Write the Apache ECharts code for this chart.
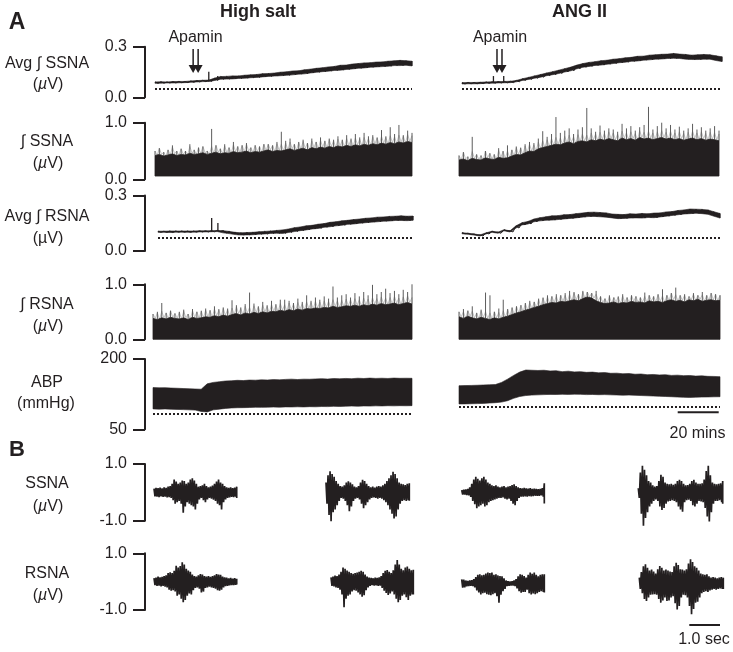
<!DOCTYPE html>
<html><head><meta charset="utf-8">
<script src="https://cdn.jsdelivr.net/npm/echarts@6/dist/echarts.min.js"></script>
<style>html,body{margin:0;padding:0;background:#fff}#c{width:733px;height:652px}</style>
</head><body><div id="c"></div><script>
// ---------------- DATA ----------------
// Panel A, row 1: Avg ∫SSNA (µV), upper / lower edge of the noisy trace
const avgSsnaSaltHi = [0.091,0.092,0.091,0.093,0.094,0.094,0.097,0.099,0.101,0.102,0.114,0.123,0.124,0.127,0.127,0.131,0.133,0.135,0.14,0.141,0.144,0.149,0.151,0.156,0.157,0.163,0.167,0.172,0.175,0.18,0.183,0.19,0.191,0.197,0.2,0.204,0.205,0.209,0.21,0.214,0.216,0.219,0.217,0.214];
const avgSsnaSaltLo = [0.083,0.084,0.085,0.085,0.086,0.087,0.089,0.091,0.093,0.094,0.1,0.107,0.108,0.109,0.112,0.113,0.116,0.118,0.121,0.124,0.126,0.128,0.13,0.133,0.137,0.139,0.144,0.148,0.152,0.155,0.159,0.161,0.165,0.168,0.172,0.174,0.178,0.18,0.182,0.184,0.188,0.188,0.19,0.186];
const avgSsnaSaltSpikes = [[9.0, 0.152], [10.5, 0.126]];
const avgSsnaAngHi = [0.087,0.088,0.088,0.089,0.091,0.092,0.093,0.094,0.095,0.1,0.11,0.118,0.127,0.135,0.144,0.152,0.161,0.17,0.179,0.191,0.2,0.207,0.211,0.217,0.22,0.226,0.229,0.234,0.237,0.243,0.244,0.25,0.252,0.255,0.256,0.26,0.256,0.254,0.25,0.252,0.254,0.252,0.246,0.24];
const avgSsnaAngLo = [0.079,0.08,0.08,0.081,0.083,0.084,0.085,0.086,0.087,0.092,0.1,0.106,0.113,0.119,0.128,0.134,0.141,0.15,0.157,0.169,0.178,0.183,0.189,0.191,0.196,0.2,0.205,0.208,0.213,0.215,0.22,0.222,0.226,0.227,0.23,0.231,0.23,0.226,0.224,0.224,0.226,0.226,0.218,0.212];
const avgSsnaAngSpikes = [[5.2, 0.126], [6.9, 0.126]];
const avgSsnaBase = [0.053, 0.053];
// row 2: ∫SSNA (µV): dense body top and peak spikes
const ssnaSaltBody = [0.42,0.44,0.41,0.43,0.45,0.42,0.44,0.43,0.46,0.44,0.45,0.47,0.44,0.46,0.48,0.45,0.47,0.46,0.49,0.47,0.48,0.5,0.47,0.49,0.48,0.5,0.52,0.49,0.51,0.5,0.52,0.54,0.51,0.53,0.55,0.52,0.56,0.54,0.57,0.55,0.58,0.56,0.59,0.57,0.6,0.58,0.61,0.59,0.62,0.6,0.63,0.61,0.64,0.62,0.65,0.63,0.66,0.64,0.67,0.65];
const ssnaSaltPeak = [0.5,0.55,0.48,0.52,0.6,0.5,0.54,0.5,0.62,0.52,0.56,0.58,0.5,0.89,0.6,0.54,0.62,0.56,0.66,0.58,0.6,0.64,0.56,0.6,0.58,0.62,0.62,0.6,0.66,0.84,0.68,0.72,0.62,0.66,0.7,0.64,0.72,0.66,0.74,0.68,0.72,0.7,0.76,0.7,0.78,0.72,0.8,0.74,0.82,0.76,0.78,0.74,0.87,0.76,0.92,0.8,0.96,0.78,0.86,0.82];
const ssnaAngBody = [0.34,0.36,0.33,0.37,0.35,0.34,0.38,0.36,0.35,0.39,0.37,0.38,0.41,0.44,0.43,0.47,0.5,0.49,0.54,0.56,0.58,0.6,0.62,0.61,0.64,0.66,0.63,0.67,0.68,0.66,0.7,0.68,0.71,0.69,0.72,0.7,0.68,0.73,0.7,0.72,0.69,0.74,0.71,0.73,0.7,0.72,0.74,0.71,0.73,0.7,0.72,0.69,0.71,0.73,0.7,0.72,0.69,0.71,0.7,0.68];
const ssnaAngPeak = [0.42,0.48,0.4,0.75,0.44,0.42,0.5,0.46,0.44,0.55,0.5,0.6,0.52,0.58,0.56,0.62,0.66,0.64,0.72,0.85,0.75,0.8,1.1,0.82,0.86,0.9,0.8,0.88,0.92,1.26,0.9,0.84,0.95,0.86,0.9,0.88,0.84,0.98,0.9,0.94,0.86,0.92,0.96,1.28,0.88,0.94,1.0,0.9,0.96,0.88,0.93,0.86,0.9,0.98,0.88,0.92,0.86,0.9,0.94,0.86];
const ssnaFloor = 0.058;
// row 3: Avg ∫RSNA (µV)
const avgRsnaSaltHi = [0.107,0.107,0.108,0.108,0.108,0.108,0.108,0.109,0.109,0.11,0.111,0.11,0.106,0.101,0.098,0.1,0.101,0.104,0.106,0.108,0.111,0.114,0.119,0.126,0.13,0.136,0.139,0.145,0.148,0.155,0.158,0.163,0.166,0.17,0.173,0.177,0.179,0.183,0.184,0.187,0.188,0.19,0.188,0.189];
const avgRsnaSaltLo = [0.101,0.101,0.1,0.102,0.102,0.101,0.102,0.103,0.103,0.104,0.105,0.098,0.094,0.089,0.086,0.087,0.088,0.091,0.092,0.095,0.096,0.095,0.1,0.105,0.11,0.114,0.119,0.122,0.128,0.131,0.136,0.139,0.144,0.146,0.15,0.153,0.156,0.158,0.161,0.162,0.165,0.165,0.164,0.166];
const avgRsnaSaltSpikes = [[9.05, 0.178], [10.1, 0.151]];
const avgRsnaAngHi = [0.099,0.096,0.092,0.087,0.098,0.107,0.102,0.115,0.109,0.136,0.153,0.16,0.173,0.18,0.185,0.19,0.191,0.196,0.197,0.202,0.205,0.209,0.21,0.208,0.206,0.2,0.198,0.197,0.201,0.2,0.203,0.201,0.205,0.206,0.211,0.213,0.219,0.222,0.227,0.226,0.225,0.222,0.212,0.203];
const avgRsnaAngLo = [0.093,0.09,0.086,0.081,0.092,0.101,0.096,0.109,0.103,0.124,0.141,0.146,0.158,0.163,0.166,0.167,0.17,0.173,0.176,0.179,0.183,0.186,0.187,0.185,0.183,0.179,0.175,0.176,0.178,0.179,0.178,0.181,0.18,0.184,0.188,0.192,0.196,0.2,0.202,0.204,0.202,0.198,0.188,0.178];
const avgRsnaAngSpikes = [];
const avgRsnaBase = [0.072, 0.072];
// row 4: ∫RSNA (µV)
const rsnaSaltBody = [0.38,0.36,0.39,0.37,0.4,0.38,0.37,0.39,0.36,0.4,0.38,0.39,0.41,0.4,0.43,0.41,0.44,0.42,0.45,0.47,0.44,0.48,0.46,0.49,0.47,0.5,0.48,0.51,0.5,0.53,0.51,0.54,0.52,0.55,0.53,0.56,0.55,0.57,0.56,0.58,0.57,0.6,0.58,0.59,0.61,0.6,0.62,0.6,0.63,0.61,0.64,0.62,0.65,0.63,0.64,0.66,0.63,0.65,0.67,0.64];
const rsnaSaltPeak = [0.46,0.5,0.66,0.48,0.52,0.47,0.5,0.54,0.46,0.55,0.5,0.52,0.56,0.53,0.6,0.55,0.58,0.56,0.71,0.62,0.58,0.64,0.85,0.65,0.6,0.68,0.62,0.7,0.64,0.72,0.72,0.7,0.66,0.74,0.68,0.8,0.7,0.76,0.72,0.78,0.74,0.96,0.76,0.8,0.82,0.76,0.84,0.78,0.86,0.8,0.99,0.82,0.86,0.92,0.84,0.88,0.82,0.9,0.86,1.0];
const rsnaAngBody = [0.41,0.38,0.42,0.39,0.37,0.4,0.38,0.36,0.39,0.37,0.4,0.42,0.45,0.48,0.5,0.53,0.55,0.58,0.6,0.63,0.65,0.67,0.66,0.69,0.68,0.7,0.72,0.7,0.74,0.77,0.75,0.7,0.67,0.65,0.66,0.68,0.65,0.67,0.66,0.69,0.67,0.68,0.66,0.7,0.68,0.69,0.67,0.7,0.72,0.69,0.71,0.68,0.72,0.7,0.73,0.69,0.71,0.72,0.7,0.71];
const rsnaAngPeak = [0.5,0.55,0.52,0.6,0.48,0.54,0.85,0.8,0.5,0.56,0.72,0.55,0.58,0.6,0.62,0.66,0.7,0.68,0.74,0.76,0.8,0.78,0.82,0.8,0.84,0.88,0.86,0.82,0.88,0.86,0.84,0.88,0.78,0.74,0.8,0.76,0.78,0.82,0.76,0.8,0.78,0.76,0.85,0.8,0.78,0.82,0.91,0.8,0.84,0.94,0.8,0.82,0.78,0.84,0.8,0.86,0.8,0.84,0.82,0.8];
const rsnaFloor = 0;
// row 5: ABP (mmHg), upper / lower envelope of pulsatile pressure
const abpSaltHi = [139,138.5,138.8,138,137.6,137,136.5,136,135.5,147,150,151.5,153,153.5,154.5,154,155,154.8,155.5,155.2,156,155.5,156.5,157,156.2,157,156.8,157.5,158,157.2,158.3,157.8,158.5,158,159,158.4,159.2,158.6,159,158.5,159.3,158.8,159,158.8];
const abpSaltLo = [93.5,93,93.4,92.8,92.5,92,91.5,91,88,87,91.5,93,94.5,95.5,96,96.2,96.5,97,96.8,97.2,97.5,97.2,97.8,97.6,98,97.7,98.3,98,98.6,98.4,99,98.7,99.3,99.6,99.2,99.8,99.5,100,99.8,100.3,100,100.4,100.2,100.5];
const abpAngHi = [143,143.3,143.6,144,144.5,145,145.5,150,157,165,172,176.5,176,175.5,176,174.5,175,173,174,172.5,173,171.5,172,170.5,171,169.5,169.8,168.5,169,167.5,168,166.5,167,166,166.5,165,165.5,164.5,164.8,163.5,164,163,162.8,162.2];
const abpAngLo = [104,104.2,104.5,104.8,105.3,106,106.8,108,111,116,120,122,123,123.5,124,124.5,124.2,124.7,124.5,125,124.6,124,124.3,123.8,124,123.5,123.2,122.8,123,122.5,122,121.5,121,120.5,120,119.5,118.8,118.3,118,118.5,118.8,119,119.3,119.5];
const abpBase = [84, 98.2];
// Apamin injection (sample index in Avg ∫SSNA traces) and arrow extent (µV)
const apaminIndex = [6.8, 6.2];
const apaminArrow = [0.286, 0.144];

// Panel B: raw nerve activity bursts (µV), positive / negative excursions
const ssnaSalt1Hi = [0.13,0.16,0.15,0.17,0.14,0.18,0.16,0.2,0.22,0.3,0.45,0.38,0.3,0.35,0.42,0.4,0.3,0.35,0.45,0.5,0.42,0.3,0.2,0.22,0.25,0.3,0.22,0.18,0.2,0.24,0.3,0.38,0.45,0.35,0.3,0.22,0.18,0.16,0.18,0.15,0.17,0.2];
const ssnaSalt1Lo = [-0.14,-0.15,-0.17,-0.14,-0.16,-0.15,-0.18,-0.17,-0.2,-0.28,-0.4,-0.35,-0.3,-0.4,-0.72,-0.5,-0.35,-0.4,-0.45,-0.5,-0.6,-0.4,-0.25,-0.2,-0.28,-0.35,-0.25,-0.2,-0.22,-0.26,-0.3,-0.4,-0.45,-0.6,-0.35,-0.25,-0.2,-0.18,-0.16,-0.17,-0.15,-0.2];
const ssnaSalt2Hi = [0.35,0.6,0.74,0.65,0.55,0.4,0.3,0.22,0.2,0.25,0.35,0.39,0.35,0.28,0.2,0.18,0.22,0.35,0.44,0.4,0.3,0.22,0.18,0.2,0.17,0.2,0.22,0.2,0.25,0.3,0.4,0.5,0.6,0.73,0.65,0.5,0.35,0.3,0.28,0.26,0.3,0.32];
const ssnaSalt2Lo = [-0.4,-0.8,-1.02,-0.7,-0.6,-0.45,-0.3,-0.2,-0.22,-0.3,-0.45,-0.67,-0.5,-0.3,-0.22,-0.2,-0.25,-0.4,-0.56,-0.45,-0.35,-0.25,-0.2,-0.18,-0.2,-0.22,-0.2,-0.22,-0.28,-0.35,-0.45,-0.6,-0.75,-0.92,-0.85,-0.6,-0.4,-0.3,-0.28,-0.3,-0.28,-0.3];
const ssnaAng1Hi = [0.08,0.09,0.1,0.12,0.18,0.3,0.45,0.55,0.48,0.42,0.5,0.55,0.45,0.35,0.3,0.25,0.22,0.25,0.2,0.18,0.2,0.22,0.18,0.2,0.22,0.26,0.28,0.22,0.18,0.15,0.14,0.16,0.14,0.13,0.15,0.12,0.13,0.12,0.11,0.12,0.15,0.32];
const ssnaAng1Lo = [-0.08,-0.08,-0.1,-0.11,-0.16,-0.3,-0.42,-0.56,-0.5,-0.45,-0.4,-0.5,-0.45,-0.35,-0.3,-0.28,-0.25,-0.22,-0.2,-0.2,-0.18,-0.22,-0.25,-0.22,-0.3,-0.4,-0.45,-0.3,-0.2,-0.15,-0.15,-0.14,-0.15,-0.13,-0.14,-0.13,-0.12,-0.12,-0.12,-0.11,-0.15,-0.39];
const ssnaAng2Hi = [0.15,0.7,0.94,0.8,0.6,0.4,0.35,0.25,0.2,0.22,0.4,0.62,0.55,0.35,0.3,0.28,0.3,0.27,0.3,0.4,0.44,0.4,0.3,0.25,0.26,0.3,0.4,0.44,0.35,0.3,0.3,0.32,0.45,0.75,0.94,0.6,0.35,0.3,0.28,0.3,0.32,0.4];
const ssnaAng2Lo = [-0.2,-0.75,-1.18,-0.9,-0.7,-0.5,-0.4,-0.3,-0.25,-0.3,-0.5,-0.62,-0.55,-0.4,-0.32,-0.3,-0.28,-0.3,-0.35,-0.5,-0.6,-0.68,-0.35,-0.28,-0.26,-0.3,-0.45,-0.5,-0.4,-0.3,-0.32,-0.35,-0.55,-0.85,-1.03,-0.7,-0.4,-0.3,-0.3,-0.28,-0.35,-0.4];
const rsnaSalt1Hi = [0.12,0.14,0.18,0.15,0.17,0.2,0.22,0.3,0.33,0.3,0.38,0.56,0.5,0.55,0.68,0.6,0.45,0.39,0.35,0.25,0.2,0.18,0.22,0.27,0.25,0.2,0.18,0.2,0.17,0.2,0.22,0.27,0.25,0.24,0.18,0.15,0.14,0.12,0.13,0.11,0.12,0.1];
const rsnaSalt1Lo = [-0.12,-0.15,-0.14,-0.17,-0.15,-0.18,-0.2,-0.28,-0.32,-0.3,-0.35,-0.5,-0.45,-0.6,-0.73,-0.65,-0.5,-0.42,-0.45,-0.3,-0.22,-0.2,-0.25,-0.38,-0.35,-0.22,-0.2,-0.18,-0.2,-0.22,-0.25,-0.3,-0.32,-0.28,-0.2,-0.16,-0.15,-0.13,-0.12,-0.12,-0.11,-0.1];
const rsnaSalt2Hi = [0.15,0.18,0.21,0.2,0.25,0.35,0.5,0.45,0.39,0.35,0.3,0.28,0.3,0.32,0.35,0.38,0.35,0.25,0.18,0.14,0.13,0.12,0.14,0.13,0.15,0.2,0.3,0.38,0.41,0.35,0.3,0.4,0.6,0.76,0.6,0.45,0.4,0.5,0.53,0.45,0.4,0.42];
const rsnaSalt2Lo = [-0.15,-0.17,-0.2,-0.22,-0.28,-0.45,-0.9,-0.6,-0.5,-0.45,-0.35,-0.3,-0.32,-0.38,-0.45,-0.53,-0.48,-0.3,-0.2,-0.15,-0.12,-0.14,-0.13,-0.15,-0.14,-0.22,-0.32,-0.4,-0.47,-0.42,-0.35,-0.45,-0.6,-0.73,-0.65,-0.5,-0.45,-0.55,-0.65,-0.5,-0.45,-0.45];
const rsnaAng1Hi = [0.14,0.13,0.1,0.09,0.1,0.11,0.15,0.22,0.3,0.32,0.28,0.3,0.35,0.38,0.36,0.38,0.3,0.32,0.28,0.26,0.25,0.18,0.1,0.08,0.07,0.08,0.1,0.15,0.25,0.32,0.3,0.26,0.2,0.3,0.38,0.34,0.38,0.3,0.25,0.3,0.32,0.32];
const rsnaAng1Lo = [-0.15,-0.14,-0.11,-0.1,-0.09,-0.1,-0.14,-0.25,-0.32,-0.39,-0.35,-0.33,-0.38,-0.4,-0.42,-0.38,-0.35,-0.45,-0.68,-0.4,-0.28,-0.2,-0.1,-0.09,-0.08,-0.08,-0.1,-0.18,-0.28,-0.33,-0.3,-0.3,-0.22,-0.35,-0.39,-0.36,-0.38,-0.35,-0.3,-0.28,-0.3,-0.32];
const rsnaAng2Hi = [0.2,0.4,0.6,0.67,0.55,0.45,0.49,0.42,0.35,0.5,0.61,0.55,0.45,0.49,0.45,0.42,0.4,0.6,0.73,0.65,0.5,0.49,0.45,0.5,0.7,0.85,0.75,0.6,0.55,0.45,0.35,0.32,0.3,0.32,0.25,0.2,0.22,0.2,0.18,0.2,0.22,0.2];
const rsnaAng2Lo = [-0.2,-0.35,-0.55,-0.62,-0.5,-0.4,-0.39,-0.38,-0.4,-0.55,-0.68,-0.6,-0.5,-0.62,-0.6,-0.5,-0.45,-0.7,-0.92,-0.8,-0.5,-0.4,-0.42,-0.5,-0.8,-1.09,-0.9,-0.68,-0.65,-0.5,-0.35,-0.3,-0.28,-0.3,-0.25,-0.22,-0.2,-0.22,-0.2,-0.18,-0.2,-0.2];

// tick labels of the scale brackets
const avgTicks = [0, 0.3];
const intTicks = [0, 1];
const abpTicks = [50, 200];
const rawTicks = [-1, 1];

// texts
const groupTitles = ['High salt', 'ANG II'];
const rowNames = ['Avg ∫ SSNA', '∫ SSNA', 'Avg ∫ RSNA', '∫ RSNA', 'ABP', 'SSNA', 'RSNA'];
const rowUnits = ['µ', 'µ', 'µ', 'µ', 'mmHg', 'µ', 'µ'];

// ---------------- CHART ----------------
const INK = '#231f20';
const SPIKE = '#5c5c5c';
const FUZZ = '#b4b4b4';
const FONT = "'Liberation Sans', Arial, Helvetica, sans-serif";
const chart = echarts.init(document.getElementById('c'), null, {renderer: 'canvas', width: 733, height: 652});
const grids = [], xAxes = [], yAxes = [], series = [];

function addGrid(left, top, width, height, n, min, max, axis) {
  const gi = grids.length;
  grids.push({left, top, width, height, containLabel: false, outerBoundsMode: 'none'});
  xAxes.push({type: 'value', gridIndex: gi, min: 0, max: n - 1, show: false, splitLine: {show: false}});
  const y = {type: 'value', gridIndex: gi, min, max, show: !!axis, splitLine: {show: false}};
  if (axis) Object.assign(y, {
    position: 'left', offset: axis.offset,
    axisLine: {show: true, onZero: false, lineStyle: {color: INK, width: 2}},
    axisTick: {show: true, length: 12, customValues: axis.ticks, lineStyle: {color: INK, width: 2}},
    axisLabel: {show: true, customValues: axis.ticks, margin: 18, color: INK, fontSize: 16, fontFamily: FONT,
      formatter: v => Number(v).toFixed(axis.dec)}
  });
  yAxes.push(y);
  return gi;
}
// alternate between two edges of a dense trace (one excursion per sample)
function zig(a, b) {
  const out = [];
  const n = a.length;
  for (let i = 0; i < n; i++) {
    out.push([i, a[i]]);
    out.push([Math.min(i + 0.5, n - 1), b[i]]);
  }
  return out;
}
function dotted(v) {
  return {silent: true, symbol: ['none', 'none'], label: {show: false}, emphasis: {disabled: true}, animation: false,
    lineStyle: {color: INK, width: 2, type: [2, 2]}, data: [{yAxis: v}]};
}
// custom shape drawn through the grid's scales
function shape(gi, build, z) {
  series.push({type: 'custom', coordinateSystem: 'cartesian2d', xAxisIndex: gi, yAxisIndex: gi, data: [[0, 0]],
    encode: {x: 0, y: 1}, silent: true, z: z || 2, clip: false,
    renderItem: (params, api) => params.dataIndex === 0 ? build(api) : null});
}
function band(gi, hi, lo, base, spikes, noisy) {
  shape(gi, api => {
    const points = hi.map((v, i) => api.coord([i, v])).concat(lo.map((v, i) => api.coord([i, v])).reverse());
    const children = [{type: 'polygon', shape: {points}, style: {fill: INK, stroke: INK, lineWidth: 0.6}}];
    (spikes || []).forEach(([x, top]) => {
      const a = api.coord([x, lo[Math.round(x)]]), b = api.coord([x, top]);
      children.push({type: 'line', shape: {x1: a[0], y1: a[1], x2: b[0], y2: b[1]}, style: {stroke: INK, lineWidth: 1.3}});
    });
    return {type: 'group', children};
  });
  series.push({type: 'line', xAxisIndex: gi, yAxisIndex: gi, data: zig(hi, lo), symbol: 'none', silent: true, z: 3,
    lineStyle: {color: INK, width: noisy ? 1 : 0}, markLine: base == null ? undefined : dotted(base)});
}
function fill(gi, body, peak, floor) {
  const n = body.length;
  // light fuzz between body top and peaks
  series.push({type: 'line', xAxisIndex: gi, yAxisIndex: gi, data: zig(peak.map((v, i) => Math.min(v, body[i] + 0.12)), body),
    symbol: 'none', silent: true, z: 1, clip: false, lineStyle: {color: FUZZ, width: 0.8}});
  shape(gi, api => {
    const children = [];
    peak.forEach((v, i) => {
      if (v <= body[i]) return;
      const a = api.coord([i, body[i]]), b = api.coord([i, v]);
      children.push({type: 'line', shape: {x1: a[0], y1: a[1], x2: b[0], y2: b[1]}, style: {stroke: SPIKE, lineWidth: 1}});
    });
    const points = body.map((v, i) => api.coord([i, v]));
    points.push(api.coord([n - 1, floor]), api.coord([0, floor]));
    children.push({type: 'polygon', shape: {points}, style: {fill: INK, stroke: INK, lineWidth: 0.8}});
    return {type: 'group', children};
  });
}
function burst(gi, hi, lo) {
  series.push({type: 'line', xAxisIndex: gi, yAxisIndex: gi, data: zig(hi, lo), symbol: 'none', clip: false,
    lineStyle: {color: INK, width: 1.7}, silent: true});
}

// Panel A
let g;
g = addGrid(155, 46.7, 257, 50.6, avgSsnaSaltHi.length, 0, 0.3, {offset: 10, ticks: avgTicks, dec: 1});
band(g, avgSsnaSaltHi, avgSsnaSaltLo, avgSsnaBase[0], avgSsnaSaltSpikes, true);
g = addGrid(462, 46.7, 260, 50.6, avgSsnaAngHi.length, 0, 0.3, null);
band(g, avgSsnaAngHi, avgSsnaAngLo, avgSsnaBase[1], avgSsnaAngSpikes, true);

g = addGrid(155, 122.7, 257, 56.6, ssnaSaltBody.length, 0, 1, {offset: 10, ticks: intTicks, dec: 1});
fill(g, ssnaSaltBody, ssnaSaltPeak, ssnaFloor);
g = addGrid(459, 122.7, 260, 56.6, ssnaAngBody.length, 0, 1, null);
fill(g, ssnaAngBody, ssnaAngPeak, ssnaFloor);

g = addGrid(158, 195.5, 255, 55.5, avgRsnaSaltHi.length, 0, 0.3, {offset: 13, ticks: avgTicks, dec: 1});
band(g, avgRsnaSaltHi, avgRsnaSaltLo, avgRsnaBase[0], avgRsnaSaltSpikes, true);
g = addGrid(462, 195.5, 258, 55.5, avgRsnaAngHi.length, 0, 0.3, null);
band(g, avgRsnaAngHi, avgRsnaAngLo, avgRsnaBase[1], avgRsnaAngSpikes, true);

g = addGrid(153, 284.3, 259, 55, rsnaSaltBody.length, 0, 1, {offset: 8, ticks: intTicks, dec: 1});
fill(g, rsnaSaltBody, rsnaSaltPeak, rsnaFloor);
g = addGrid(459, 284.3, 261, 55, rsnaAngBody.length, 0, 1, null);
fill(g, rsnaAngBody, rsnaAngPeak, rsnaFloor);

g = addGrid(153, 359, 259, 70.3, abpSaltHi.length, 50, 200, {offset: 8, ticks: abpTicks, dec: 0});
band(g, abpSaltHi, abpSaltLo, abpBase[0], null, false);
g = addGrid(459, 359, 261, 70.3, abpAngHi.length, 50, 200, null);
band(g, abpAngHi, abpAngLo, abpBase[1], null, false);

// Panel B
g = addGrid(154, 464, 82.7, 56.7, ssnaSalt1Hi.length, -1, 1, {offset: 9, ticks: rawTicks, dec: 1}); burst(g, ssnaSalt1Hi, ssnaSalt1Lo);
g = addGrid(326, 464, 83.3, 56.7, ssnaSalt2Hi.length, -1, 1, null); burst(g, ssnaSalt2Hi, ssnaSalt2Lo);
g = addGrid(461.7, 464, 82.6, 56.7, ssnaAng1Hi.length, -1, 1, null); burst(g, ssnaAng1Hi, ssnaAng1Lo);
g = addGrid(638.3, 464, 84.4, 56.7, ssnaAng2Hi.length, -1, 1, null); burst(g, ssnaAng2Hi, ssnaAng2Lo);
g = addGrid(154, 553.3, 82.7, 56.7, rsnaSalt1Hi.length, -1, 1, {offset: 9, ticks: rawTicks, dec: 1}); burst(g, rsnaSalt1Hi, rsnaSalt1Lo);
g = addGrid(331, 553.3, 82.3, 56.7, rsnaSalt2Hi.length, -1, 1, null); burst(g, rsnaSalt2Hi, rsnaSalt2Lo);
g = addGrid(461.7, 555, 82.6, 56.7, rsnaAng1Hi.length, -1, 1, null); burst(g, rsnaAng1Hi, rsnaAng1Lo);
g = addGrid(639.3, 555, 84, 56.7, rsnaAng2Hi.length, -1, 1, null); burst(g, rsnaAng2Hi, rsnaAng2Lo);

// texts and annotations
function txt(text, x, y, size, bold, rich) {
  const style = {text, x: 0, y: 0, fontSize: size, fontWeight: bold ? 'bold' : 'normal', fontFamily: FONT, fill: INK,
    align: 'center', verticalAlign: 'middle', textAlign: 'center', textVerticalAlign: 'middle'};
  if (rich) style.rich = rich;
  return {type: 'text', x, y, silent: true, style};
}
const italic = {it: {fontStyle: 'italic', fontSize: 16, fontFamily: FONT, fill: INK}};
const graphics = [];
graphics.push(txt('A', 17, 23, 23, true));
graphics.push(txt('B', 17, 450, 22, true));
graphics.push(txt(groupTitles[0], 258, 12, 18, true));
graphics.push(txt(groupTitles[1], 579.5, 12, 18, true));
graphics.push(txt('Apamin', 195.5, 38, 16, false));
graphics.push(txt('Apamin', 500, 38, 16, false));
const nameY = [63.3, 141.7, 216.7, 305, 382.7, 483.3, 573.3];
const unitY = [85, 163.3, 238.3, 326.7, 403.3, 506.7, 596];
const uprightMu = [false, false, true, false, false, false, false];
rowNames.forEach((nm, i) => {
  graphics.push(txt(nm, 47, nameY[i], 16, false));
  if (rowUnits[i] === 'µ') {
    graphics.push(uprightMu[i] ? txt('(µV)', 48, unitY[i], 16, false) : txt('({it|µ}V)', 48, unitY[i], 16, false, italic));
  } else {
    graphics.push(txt('(' + rowUnits[i] + ')', 46, unitY[i], 16, false));
  }
});
graphics.push({type: 'line', silent: true, shape: {x1: 677.7, y1: 412.3, x2: 718.7, y2: 412.3}, style: {stroke: INK, lineWidth: 2}});
graphics.push(txt('20 mins', 697.5, 433.5, 16, false));
graphics.push({type: 'line', silent: true, shape: {x1: 689.3, y1: 625, x2: 720, y2: 625}, style: {stroke: INK, lineWidth: 2}});
graphics.push(txt('1.0 sec', 704, 640, 16, false));

chart.setOption({
  animation: false,
  backgroundColor: '#fff',
  grid: grids, xAxis: xAxes, yAxis: yAxes, series,
  graphic: graphics
});

// Apamin double arrows, placed through the Avg ∫SSNA scales (grids 0 and 1)
apaminIndex.forEach((idx, gi) => {
  const top = chart.convertToPixel({gridIndex: gi}, [idx, apaminArrow[0]]);
  const tip = chart.convertToPixel({gridIndex: gi}, [idx, apaminArrow[1]]);
  [-2.5, 2.5].forEach(dx => {
    const x = top[0] + dx;
    graphics.push({type: 'line', silent: true, shape: {x1: x, y1: top[1], x2: x, y2: tip[1] - 6}, style: {stroke: INK, lineWidth: 1.5}});
    graphics.push({type: 'polygon', silent: true, shape: {points: [[x - 4.5, tip[1] - 8], [x + 4.5, tip[1] - 8], [x, tip[1]]]}, style: {fill: INK}});
  });
});
chart.setOption({graphic: graphics});
</script></body></html>
